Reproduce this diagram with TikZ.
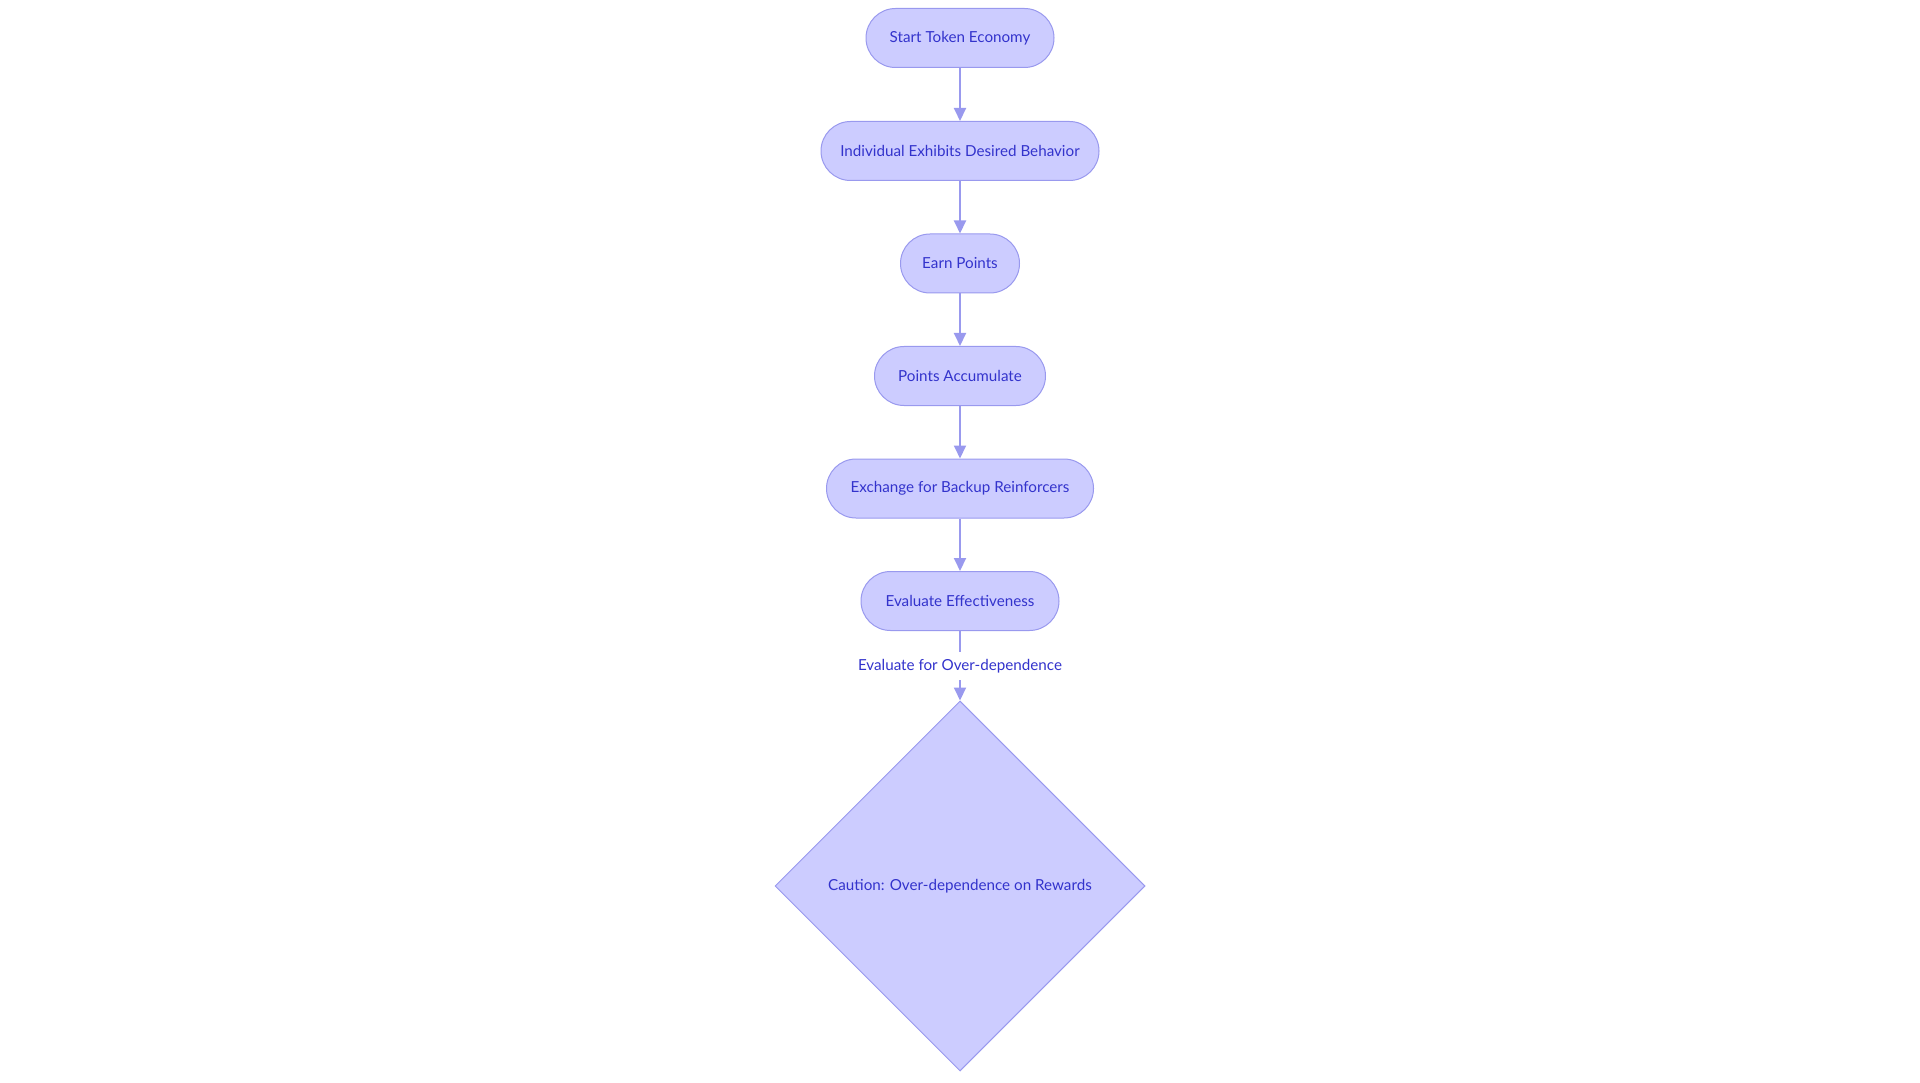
\documentclass[tikz,border=0pt]{standalone}
\usepackage{fontspec}
\setmainfont{Lato}
\usetikzlibrary{shapes.geometric,arrows.meta}
\definecolor{nodefill}{HTML}{CCCCFF}
\definecolor{nodeline}{HTML}{9999EE}
\definecolor{nodetext}{HTML}{3333CC}
\definecolor{edgeline}{HTML}{9999EE}
\begin{document}
\begin{tikzpicture}[x=1pt,y=-1pt,
  pill/.style={draw=nodeline,fill=nodefill,line width=1pt,rounded corners=29.5pt,
    minimum height=59pt,inner sep=0pt,text=nodetext,font=\fontsize{15.2}{18}\selectfont},
  decision/.style={diamond,draw=nodeline,fill=nodefill,line width=1pt,minimum width=370pt,
    minimum height=370pt,inner sep=0pt,text=nodetext,font=\fontsize{15.2}{18}\selectfont},
  flow/.style={draw=edgeline,line width=2pt,-{Triangle[length=13pt,width=12pt]}},
  elabel/.style={fill=white,inner sep=2pt,minimum height=28pt,text=nodetext,font=\fontsize{15.2}{18}\selectfont}]
\useasboundingbox (0,0) rectangle (1920,1083);
\node[pill,minimum width=188pt] (n1) at (960,38) {Start Token Economy};
\node[pill,minimum width=278pt] (n2) at (960,151) {Individual Exhibits Desired Behavior};
\node[pill,minimum width=119pt] (n3) at (960,263.5) {Earn Points};
\node[pill,minimum width=171pt] (n4) at (960,376) {Points Accumulate};
\node[pill,minimum width=267pt] (n5) at (960,488.5) {Exchange for Backup Reinforcers};
\node[pill,minimum width=198pt] (n6) at (960,601) {Evaluate Effectiveness};
\node[decision] (n7) at (960,886) {Caution: Over-dependence on Rewards};
\draw[flow] (n1) -- (n2);
\draw[flow] (n2) -- (n3);
\draw[flow] (n3) -- (n4);
\draw[flow] (n4) -- (n5);
\draw[flow] (n5) -- (n6);
\draw[flow] (n6) -- node[elabel] {Evaluate for Over-dependence} (n7);
\end{tikzpicture}
\end{document}
